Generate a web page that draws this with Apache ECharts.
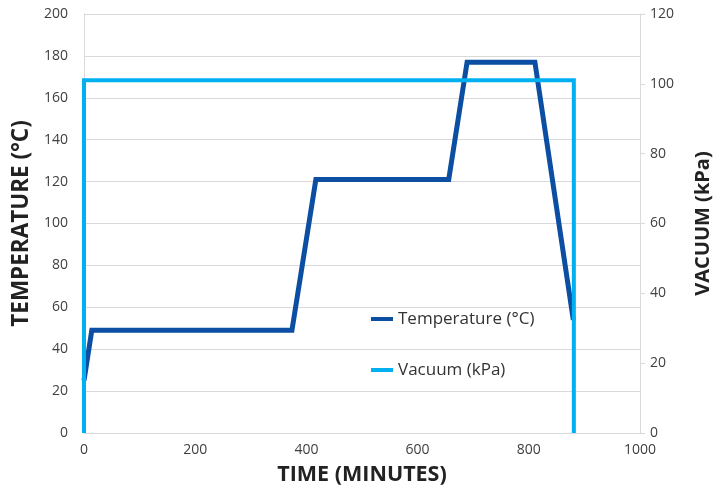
<!DOCTYPE html>
<html>
<head>
<meta charset="utf-8">
<script src="https://cdn.jsdelivr.net/npm/echarts@6/dist/echarts.min.js"></script>
<style>html,body{margin:0;padding:0;background:#fff}#c{width:726px;height:491px}</style>
</head>
<body>
<div id="c"></div>
<script>
const tempTime = [0, 14, 374, 417, 656, 689, 811, 880];
const tempValues = [25, 49, 49, 121, 121, 177, 177, 54];
const vacTime = [0, 0, 881, 881];
const vacValues = [0, 101, 101, 0];
const xTicks = [0, 200, 400, 600, 800, 1000];

const tempData = tempTime.map((t, i) => [t, tempValues[i]]);
const vacData = vacTime.map((t, i) => [t, vacValues[i]]);

const font = '"Open Sans", "Noto Sans", sans-serif';
const chart = echarts.init(document.getElementById('c'), null, {renderer: 'canvas'});
const legendText = {fontFamily: font, fontSize: 17, color: '#333', lineHeight: 20};
chart.setOption({
  animation: false,
  backgroundColor: '#fff',
  textStyle: {fontFamily: font},
  grid: {left: 84, right: 86, top: 14, bottom: 57},
  legend: [
    {data: ['Temperature (°C)'], left: 366, top: 304, icon: 'rect', itemWidth: 22, itemHeight: 4, itemGap: 0, textStyle: legendText},
    {data: ['Vacuum (kPa)'], left: 366, top: 355, icon: 'rect', itemWidth: 22, itemHeight: 4, itemGap: 0, textStyle: legendText}
  ],
  xAxis: {
    type: 'value', min: 0, max: 1000, interval: 200,
    name: 'TIME (MINUTES)', nameLocation: 'middle', nameGap: 31,
    nameTextStyle: {fontFamily: font, fontSize: 21.5, fontWeight: 'bold', color: '#222'},
    axisLine: {show: true, lineStyle: {color: '#d9d9d9', width: 1}},
    axisTick: {show: false},
    splitLine: {show: false},
    axisLabel: {fontFamily: font, fontSize: 14, color: '#404040', margin: 10,
      formatter: v => xTicks.includes(v) ? String(v) : ''}
  },
  yAxis: [
    {
      type: 'value', min: 0, max: 200, interval: 20, position: 'left',
      name: 'TEMPERATURE (°C)', nameLocation: 'middle', nameGap: 51, nameRotate: 90,
      nameTextStyle: {fontFamily: font, fontSize: 22.5, fontWeight: 'bold', color: '#222'},
      axisLine: {show: true, lineStyle: {color: '#d9d9d9', width: 1}},
      axisTick: {show: false},
      splitLine: {show: true, lineStyle: {color: '#d9d9d9', width: 1}},
      axisLabel: {fontFamily: font, fontSize: 14, color: '#404040', margin: 16}
    },
    {
      type: 'value', min: 0, max: 120, interval: 20, position: 'right',
      name: 'VACUUM (kPa)', nameLocation: 'middle', nameGap: 53, nameRotate: 90,
      nameTextStyle: {fontFamily: font, fontSize: 20, fontWeight: 'bold', color: '#222'},
      axisLine: {show: true, lineStyle: {color: '#d9d9d9', width: 1}},
      axisTick: {show: true, length: 5, lineStyle: {color: '#d9d9d9'}},
      splitLine: {show: false},
      axisLabel: {fontFamily: font, fontSize: 14, color: '#404040', margin: 10}
    }
  ],
  series: [
    {
      name: 'Temperature (°C)', type: 'line', yAxisIndex: 0, data: tempData,
      showSymbol: false, symbol: 'none',
      lineStyle: {color: '#0B4EA2', width: 5, join: 'miter'}, itemStyle: {color: '#0B4EA2'}
    },
    {
      name: 'Vacuum (kPa)', type: 'line', yAxisIndex: 1, data: vacData,
      showSymbol: false, symbol: 'none',
      lineStyle: {color: '#00B0F0', width: 4, join: 'miter'}, itemStyle: {color: '#00B0F0'}
    }
  ]
});
</script>
</body>
</html>
